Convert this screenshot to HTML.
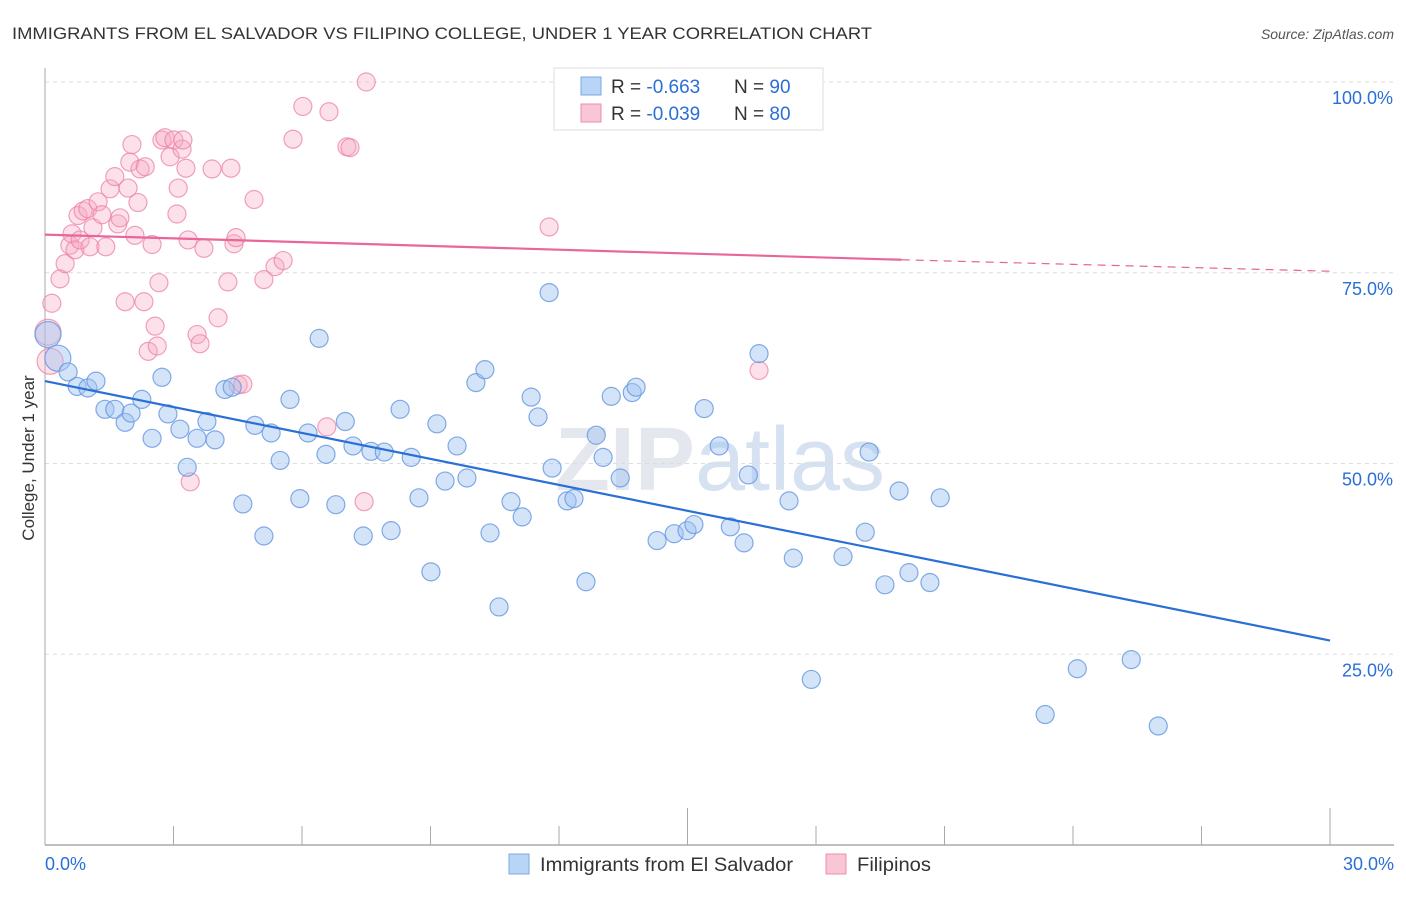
<!DOCTYPE html>
<html><head><meta charset="utf-8"><style>
body{margin:0;background:#fff;font-family:"Liberation Sans",sans-serif;}
svg text{font-family:"Liberation Sans",sans-serif;}
</style></head><body>
<svg id="c" width="1406" height="892">
<text x="12" y="39" font-size="17" fill="#333" textLength="860" lengthAdjust="spacingAndGlyphs">IMMIGRANTS FROM EL SALVADOR VS FILIPINO COLLEGE, UNDER 1 YEAR CORRELATION CHART</text>
<text x="1394" y="39" font-size="14" fill="#555" font-style="italic" text-anchor="end">Source: ZipAtlas.com</text>
<text x="720" y="490" font-size="90" fill="#e4e8ee" text-anchor="middle" font-weight="bold">ZIP<tspan font-weight="normal" fill="#d6e2f2">atlas</tspan></text>
<g id="grid"></g><g id="marks"></g>
<text transform="translate(34,458) rotate(-90)" font-size="17" fill="#333" text-anchor="middle">College, Under 1 year</text>
<g>
<rect x="554" y="68" width="269" height="62" fill="#fff" stroke="#ddd"/>
<rect x="581" y="77" width="20" height="18" fill="#b8d4f6" stroke="#7aaae6"/>
<rect x="581" y="104" width="20" height="18" fill="#f9c6d6" stroke="#ee8cac"/>
<text x="611" y="93" font-size="19" fill="#333">R = <tspan fill="#2a6fd6">-0.663</tspan></text>
<text x="734" y="93" font-size="19" fill="#333">N = <tspan fill="#2a6fd6">90</tspan></text>
<text x="611" y="120" font-size="19" fill="#333">R = <tspan fill="#2a6fd6">-0.039</tspan></text>
<text x="734" y="120" font-size="19" fill="#333">N = <tspan fill="#2a6fd6">80</tspan></text>
</g>
<g>
<rect x="509" y="854" width="20" height="20" fill="#b8d4f6" stroke="#7aaae6"/>
<text x="540" y="871" font-size="19" fill="#333" textLength="253" lengthAdjust="spacingAndGlyphs">Immigrants from El Salvador</text>
<rect x="826" y="854" width="20" height="20" fill="#f9c6d6" stroke="#ee8cac"/>
<text x="857" y="871" font-size="19" fill="#333" textLength="74" lengthAdjust="spacingAndGlyphs">Filipinos</text>
</g>
</svg>
<script>
const blueX=[0.07,0.30,0.54,0.75,1.00,1.19,1.40,1.63,1.87,2.01,2.26,2.50,2.73,2.87,3.15,3.32,3.55,3.78,3.97,4.20,4.37,4.62,4.90,5.11,5.28,5.49,5.72,5.95,6.14,6.40,6.56,6.79,7.01,7.19,7.43,7.61,7.92,8.08,8.29,8.55,8.73,9.01,9.15,9.34,9.62,9.85,10.06,10.27,10.39,10.60,10.88,11.14,11.35,11.51,11.77,11.84,12.19,12.35,12.63,12.87,13.03,13.22,13.43,13.71,13.80,14.29,14.69,14.99,15.15,15.39,15.74,16.00,16.32,16.42,16.67,17.37,17.47,17.89,18.63,19.15,19.24,19.61,19.94,20.17,20.66,20.90,23.35,24.10,25.36,25.99];
const blueY=[66.9,63.8,62.0,60.1,59.9,60.8,57.1,57.1,55.4,56.6,58.4,53.3,61.3,56.5,54.5,49.5,53.3,55.5,53.1,59.7,60.0,44.7,55.0,40.5,54.0,50.4,58.4,45.4,54.0,66.4,51.2,44.6,55.5,52.3,40.5,51.6,51.5,41.2,57.1,50.8,45.5,35.8,55.2,47.7,52.3,48.1,60.6,62.3,40.9,31.2,45.0,43.0,58.7,56.1,72.4,49.4,45.1,45.4,34.5,53.7,50.8,58.8,48.1,59.3,60.0,39.9,40.8,41.2,42.0,57.2,52.3,41.7,39.6,48.5,64.4,45.1,37.6,21.7,37.8,41.0,51.5,34.1,46.4,35.7,34.4,45.5,17.1,23.1,24.3,15.6];
const pinkX=[0.07,0.16,0.12,0.35,0.47,0.58,0.63,0.70,0.77,0.82,0.89,1.00,1.05,1.12,1.24,1.33,1.42,1.52,1.63,1.70,1.75,1.87,1.94,1.98,2.03,2.10,2.17,2.22,2.34,2.31,2.41,2.50,2.57,2.62,2.66,2.73,2.80,2.92,3.01,3.08,3.11,3.20,3.22,3.29,3.34,3.39,3.55,3.62,3.71,3.90,4.04,4.27,4.34,4.41,4.46,4.51,4.62,4.88,5.11,5.37,5.56,5.79,6.02,6.58,6.63,7.05,7.12,7.45,7.50,11.77,16.67];
const pinkY=[67.2,71.0,63.4,74.2,76.2,78.6,80.1,78.0,82.5,79.3,83.1,83.4,78.4,80.9,84.3,82.6,78.4,86.0,87.6,81.4,82.2,71.2,86.1,89.5,91.8,79.9,84.2,88.6,88.9,71.2,64.7,78.7,68.0,65.4,73.7,92.4,92.7,90.2,92.4,82.7,86.1,91.2,92.4,88.7,79.3,47.6,66.9,65.7,78.2,88.6,69.1,73.8,88.7,78.8,79.6,60.3,60.4,84.6,74.1,75.8,76.6,92.5,96.8,54.8,96.1,91.5,91.4,45.0,100.0,81.0,62.2];
const blueTrend=[60.8,26.8];
const pinkTrend=[80.0,76.7,75.2];
const yTicks=[25,50,75,100];
const yTickLabels=["25.0%","50.0%","75.0%","100.0%"];
const xTicks=[0,3,6,9,12,15,18,21,24,27,30];
const xs=v=>45+v/30*1285, ys=v=>845-v*7.63;
const NS="http://www.w3.org/2000/svg";
const g=document.getElementById('grid'), m=document.getElementById('marks');
function mk(p,tag,a){const e=document.createElementNS(NS,tag);for(const k in a)e.setAttribute(k,a[k]);p.appendChild(e);return e;}
yTicks.forEach((t,i)=>{
 const l=mk(g,'line',{x1:45,x2:1394,y1:ys(t),y2:ys(t),stroke:'#ddd','stroke-dasharray':'4,4'});
 
 
 const tx=mk(g,'text',{x:1393,y:ys(t)+22,'font-size':18,fill:'#2a6fd6','text-anchor':'end'});
 tx.textContent=yTickLabels[i];
 
 
});
const ax=mk(g,'line',{x1:45,x2:45,y1:68,y2:845,stroke:'#aaa'});


const bx=mk(g,'line',{x1:45,x2:1394,y1:845,y2:845,stroke:'#aaa','stroke-width':1.5});


xTicks.forEach(t=>{
 const major=(t===15||t===30);
 const l=mk(g,'line',{x1:xs(t),x2:xs(t),y1:major?808:826,y2:845,stroke:'#aaa'});
 
 
});
[[0,'0.0%','start',45],[30,'30.0%','end',1394]].forEach(d=>{
 const tx=mk(g,'text',{x:d[3],y:870,'font-size':18,fill:'#2a6fd6','text-anchor':d[2]});
 tx.textContent=d[1];
 
 
});
function dots(X,Y,fill,stroke,name,big){
 X.forEach((x,i)=>{
  const r=big.includes(i)?13:9;
  const c=mk(m,'circle',{cx:xs(x),cy:ys(Y[i]),r:r,fill:fill,stroke:stroke,'stroke-width':1.2});
  
  
 });
}
dots(pinkX,pinkY,'rgba(246,168,194,0.35)','rgba(236,130,166,0.75)','filipino-point',[0,2]);
dots(blueX,blueY,'rgba(160,196,240,0.45)','rgba(100,150,225,0.8)','el-salvador-point',[0,1]);
const bl=mk(m,'line',{x1:xs(0),y1:ys(blueTrend[0]),x2:xs(30),y2:ys(blueTrend[1]),stroke:'#2a6fd6','stroke-width':2.2});


const pl=mk(m,'line',{x1:xs(0),y1:ys(pinkTrend[0]),x2:xs(20),y2:ys(pinkTrend[1]),stroke:'#e8669a','stroke-width':2.2});


const pd=mk(m,'line',{x1:xs(20),y1:ys(pinkTrend[1]),x2:xs(30),y2:ys(pinkTrend[2]),stroke:'#e8669a','stroke-width':1.2,'stroke-dasharray':'8,6'});


</script>
</body></html>
